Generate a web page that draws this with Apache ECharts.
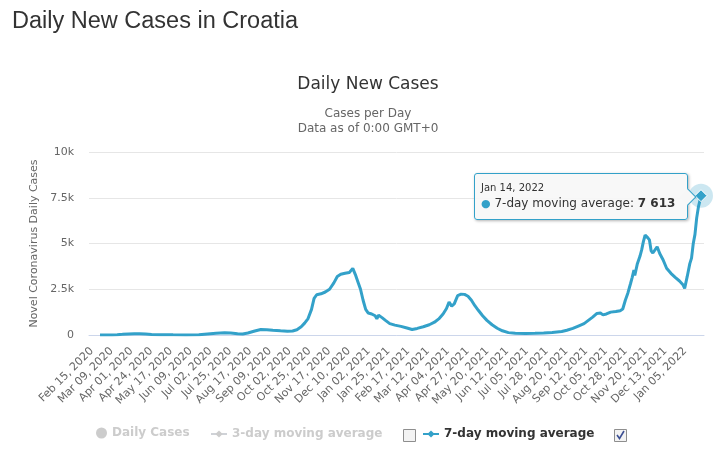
<!DOCTYPE html>
<html><head><meta charset="utf-8">
<script src="https://cdn.jsdelivr.net/npm/echarts@6/dist/echarts.min.js"></script>
<style>html,body{margin:0;padding:0;background:#fff}#c{width:716px;height:455px}</style>
</head><body><div id="c"></div>
<script>
// ---- data ----
const startDate = 'Feb 15, 2020';             // day index 0
const xTickDays = [0,23,46,69,92,115,138,161,184,207,230,253,276,299,322,345,368,391,414,437,460,483,506,529,552,575,598,621,644,667,690];
const xTickLabels = ['Feb 15, 2020','Mar 09, 2020','Apr 01, 2020','Apr 24, 2020','May 17, 2020','Jun 09, 2020','Jul 02, 2020','Jul 25, 2020','Aug 17, 2020','Sep 09, 2020','Oct 02, 2020','Oct 25, 2020','Nov 17, 2020','Dec 10, 2020','Jan 02, 2021','Jan 25, 2021','Feb 17, 2021','Mar 12, 2021','Apr 04, 2021','Apr 27, 2021','May 20, 2021','Jun 12, 2021','Jul 05, 2021','Jul 28, 2021','Aug 20, 2021','Sep 12, 2021','Oct 05, 2021','Oct 28, 2021','Nov 20, 2021','Dec 13, 2021','Jan 05, 2022'];
const yTickValues = [0, 2500, 5000, 7500, 10000];
const yTickLabels = ['0', '2.5k', '5k', '7.5k', '10k'];
// 7-day moving average, sampled at day indices (days since Feb 15, 2020)
const sampleDays = [0,8,14,20,26,33,40,46,53,60,70,85,100,115,125,135,145,152,160,166,172,180,187,194,201,210,218,224,229,234,238,242,246,249,252,257,262,267,272,276,280,285,290,294,297,300,303,306,309,312,316,320,322,324,328,332,337,343,350,357,363,369,376,383,389,394,399,403,406,409,412,416,420,424,428,432,436,440,445,450,456,462,468,475,483,495,506,516,526,537,543,550,557,563,568,573,578,582,585,589,594,600,605,608,611,614,617,619,621,622,625,628,630,632,634,637,639,641,643,645,648,651,655,659,664,669,674,678,680,683,686,688,690,692,694,696,698,699];
const sampleValues = [0,2,5,15,35,60,75,70,50,30,15,8,5,15,60,90,120,110,70,60,110,220,300,290,260,230,210,220,290,450,650,900,1400,2000,2200,2250,2350,2500,2850,3200,3320,3370,3420,3640,3300,2900,2500,1900,1400,1200,1150,1050,880,1080,950,800,620,540,470,380,300,360,450,560,700,880,1150,1450,1800,1580,1700,2150,2230,2220,2120,1900,1600,1350,1050,800,560,370,230,130,90,80,90,110,140,190,260,360,500,620,800,980,1180,1200,1100,1150,1250,1280,1330,1420,1900,2300,2800,3150,3550,3250,3900,4300,4650,5100,5460,5320,5200,4600,4480,4550,4820,4450,4100,3650,3370,3150,2950,2750,2550,3200,3900,4200,5000,5500,6400,7000,7400,7613];
const dailyCases = [];   // hidden series
const threeDayAvg = [];  // hidden series
const seriesNames = ['Daily Cases', '3-day moving average', '7-day moving average'];

// ---- helpers ----
const MONTHS = ['Jan','Feb','Mar','Apr','May','Jun','Jul','Aug','Sep','Oct','Nov','Dec'];
const t0 = Date.UTC(2020, 1, 15);
function dayLabel(d) {
  const dt = new Date(t0 + d * 86400000);
  const dd = String(dt.getUTCDate()).padStart(2, '0');
  return MONTHS[dt.getUTCMonth()] + ' ' + dd + ', ' + dt.getUTCFullYear();
}
function fmt(v) { return String(v).replace(/\B(?=(\d{3})+(?!\d))/g, ' '); }

const LINE = '#33a1c9';
const FONT = 'DejaVu Sans';
const sevenDay = sampleDays.map((d, i) => [d, sampleValues[i]]);
const lastIdx = sevenDay.length - 1;
const last = sevenDay[lastIdx];
const legendSel = {'Daily Cases': false, '3-day moving average': false};
const legendText = {fontFamily: FONT, fontSize: 12, fontWeight: 'bold', color: '#333'};

const chart = echarts.init(document.getElementById('c'), null, {renderer: 'canvas'});
chart.setOption({
  animation: false,
  backgroundColor: '#fff',
  title: [
    {text: 'Daily New Cases in Croatia', left: 7, top: 5,
     textStyle: {fontFamily: 'Liberation Sans', fontSize: 23.5, fontWeight: 'normal', color: '#333'}},
    {text: 'Daily New Cases', left: 363, top: 71, textAlign: 'center',
     textStyle: {fontFamily: FONT, fontSize: 17, fontWeight: 'normal', color: '#333'}},
    {text: 'Cases per Day\nData as of 0:00 GMT+0', left: 363, top: 101, textAlign: 'center',
     textStyle: {fontFamily: FONT, fontSize: 12, lineHeight: 15, fontWeight: 'normal', color: '#666'}}
  ],
  grid: {left: 89, right: 12, top: 152, bottom: 120, containLabel: false},
  xAxis: {
    type: 'value', min: -12.8, max: 702.5,
    axisLine: {show: true, lineStyle: {color: '#ccd6eb', width: 1}},
    axisTick: {show: false},
    splitLine: {show: false},
    axisLabel: {
      customValues: xTickDays,
      rotate: 45, margin: 14, verticalAlign: 'bottom', padding: [0, 6, 0, 0],
      fontFamily: FONT, fontSize: 11, color: '#666',
      formatter: v => { const k = xTickDays.indexOf(Math.round(v)); return k >= 0 ? xTickLabels[k] : ''; }
    }
  },
  yAxis: {
    type: 'value', min: 0, max: 10000, interval: 2500,
    name: 'Novel Coronavirus Daily Cases', nameLocation: 'middle', nameGap: 48, nameRotate: 90,
    nameTextStyle: {fontFamily: FONT, fontSize: 11, color: '#666'},
    axisLine: {show: false}, axisTick: {show: false},
    splitLine: {lineStyle: {color: '#e6e6e6', width: 1}},
    axisLabel: {margin: 15, fontFamily: FONT, fontSize: 11, color: '#666',
      formatter: v => { const k = yTickValues.indexOf(v); return k >= 0 ? yTickLabels[k] : ''; }}
  },
  legend: [
    {data: [{name: seriesNames[0], icon: 'circle'}], left: 96, top: 427, padding: 0,
     itemWidth: 11, itemHeight: 11, inactiveColor: '#ccc', selected: legendSel, textStyle: legendText},
    {data: [seriesNames[1]], left: 210, top: 428, padding: 0,
     itemWidth: 16, itemHeight: 9, inactiveColor: '#ccc', selected: legendSel, textStyle: legendText},
    {data: [seriesNames[2]], left: 422, top: 428, padding: 0,
     itemWidth: 16, itemHeight: 9, inactiveColor: '#ccc', selected: legendSel, textStyle: legendText}
  ],
  tooltip: {
    trigger: 'item', triggerOn: 'none', alwaysShowContent: true, transitionDuration: 0,
    backgroundColor: 'rgba(247,247,247,0.92)', borderColor: LINE, borderWidth: 1, borderRadius: 3,
    padding: [7, 12, 7, 6],
    extraCssText: 'box-shadow:1px 1px 3px rgba(0,0,0,0.3);overflow:visible;',
    position: (point, params, dom, rect, size) => [point[0] - size.contentSize[0] - 13, point[1] - 23],
    formatter: p => '<div style="position:relative;font-family:DejaVu Sans;color:#333;white-space:nowrap">' +
      '<div style="font-size:10px;line-height:14px">' + dayLabel(p.value[0]) + '</div>' +
      '<div style="font-size:12px;line-height:17px"><span style="color:' + LINE + ';font-size:11px">\u25CF</span> ' +
      p.seriesName + ': <b>' + fmt(p.value[1]) + '</b></div></div>' +
      '<div style="position:absolute;right:-7px;top:50%;margin-top:-6px;width:11px;height:11px;background:#f7f7f7;border-top:1px solid ' + LINE + ';border-right:1px solid ' + LINE + ';transform:rotate(45deg)"></div>'
  },
  graphic: [
    {type: 'rect', shape: {x: 403.5, y: 429.5, width: 12, height: 12}, style: {fill: '#f3f3f3', stroke: '#8e8e8e', lineWidth: 1}},
    {type: 'rect', shape: {x: 614.5, y: 429.5, width: 12, height: 12}, style: {fill: '#f3f3f3', stroke: '#8e8e8e', lineWidth: 1}},
    {type: 'polyline', shape: {points: [[617, 435], [619.5, 438.5], [624, 431]]}, style: {stroke: '#3c4f93', lineWidth: 1.6, fill: null}}
  ],
  series: [
    {name: seriesNames[0], type: 'bar', data: dailyCases, itemStyle: {color: '#999'}},
    {name: seriesNames[1], type: 'line', data: threeDayAvg, symbol: 'diamond', showSymbol: false, itemStyle: {color: '#999'}},
    {name: seriesNames[2], type: 'line', data: sevenDay, symbol: 'diamond', showSymbol: true,
     symbolSize: 0.01, showAllSymbol: true,
     smooth: false, itemStyle: {color: LINE}, lineStyle: {color: LINE, width: 3},
     emphasis: {disabled: true},
     markPoint: {
       silent: true, label: {show: false},
       data: [
         {coord: last, symbol: 'circle', symbolSize: 24, itemStyle: {color: 'rgba(51,161,201,0.25)'}},
         {coord: last, symbol: 'diamond', symbolSize: 12, itemStyle: {color: LINE, borderColor: '#fff', borderWidth: 1}}
       ]
     }}
  ]
});
function showTip() { chart.dispatchAction({type: 'showTip', seriesIndex: 2, dataIndex: lastIdx}); }
showTip();
setTimeout(showTip, 30);
</script></body></html>
